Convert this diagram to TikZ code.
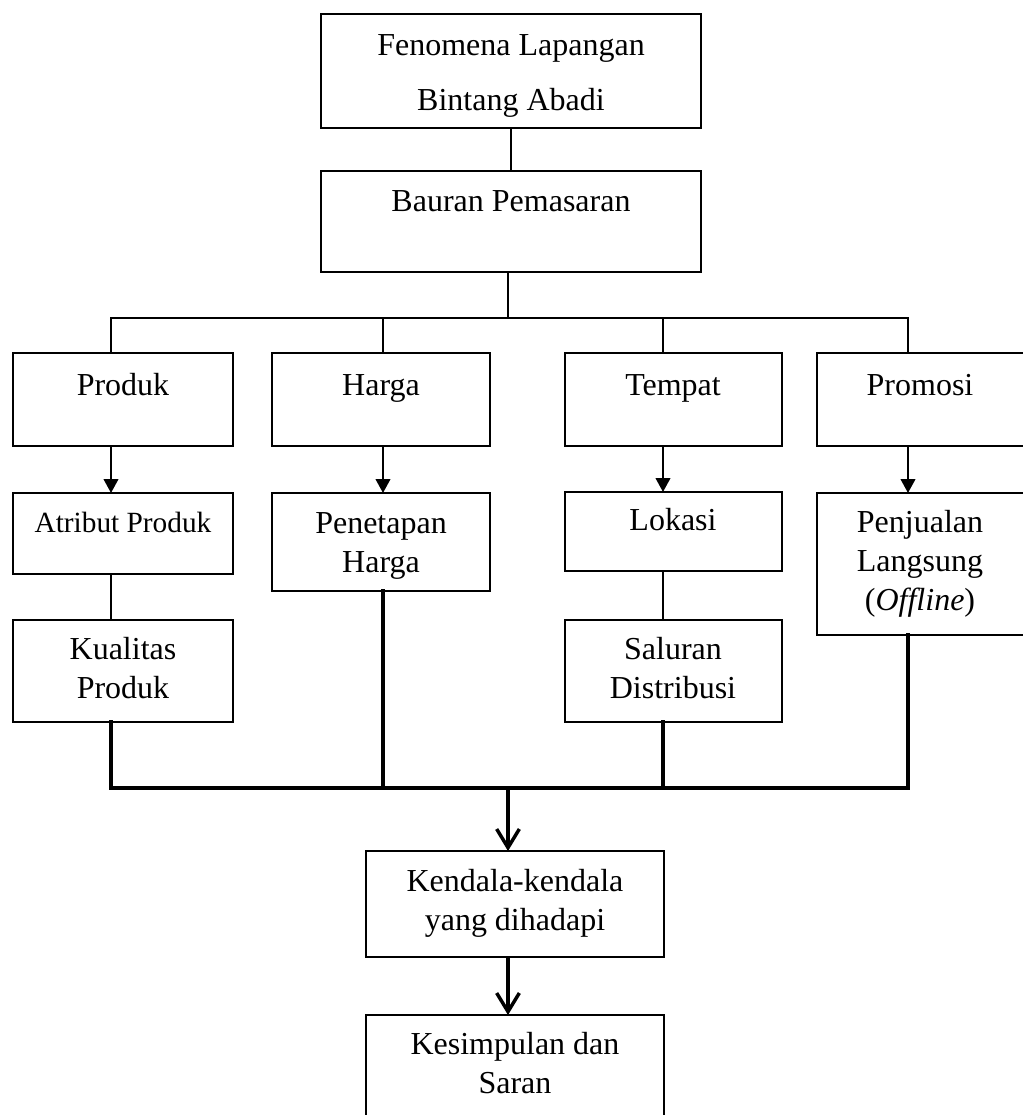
\documentclass[tikz,border=0pt]{standalone}
\usepackage{fontspec}
\setmainfont{Liberation Serif}
\usetikzlibrary{arrows.meta,fit}
\begin{document}
\begin{tikzpicture}[x=0.75pt,y=-0.75pt,
  box/.style={draw,line width=1.5pt,inner sep=0pt,outer sep=0pt},
  txt/.style={font=\fontsize{24}{29}\selectfont,align=center,inner sep=0pt,anchor=base},
  conn/.style={line width=1.2pt},
  farrow/.style={line width=1.5pt,-{Triangle[length=10.5pt,width=11pt]}},
  heavy/.style={line width=2.6pt,line cap=rect},
  barb/.style={line width=2.6pt,-{Straight Barb[length=14pt,width=17pt,line width=2.6pt]}}
]
\useasboundingbox (0,0) rectangle (1023,1115);
% boxes
\node[box,fit={(321,14) (701,128)}] (fen) {};
\node[box,fit={(321,171) (701,272)}] (bauran) {};
\node[box,fit={(13,353) (233,446)}] (produk) {};
\node[box,fit={(272,353) (490,446)}] (harga) {};
\node[box,fit={(565,353) (782,446)}] (tempat) {};
\node[box,fit={(817,353) (1030,446)}] (promosi) {};
\node[box,fit={(13,493) (233,574)}] (atribut) {};
\node[box,fit={(13,620) (233,722)}] (kualitas) {};
\node[box,fit={(272,493) (490,591)}] (penetapan) {};
\node[box,fit={(565,492) (782,571)}] (lokasi) {};
\node[box,fit={(565,620) (782,722)}] (saluran) {};
\node[box,fit={(817,493) (1030,635)}] (penjualan) {};
\node[box,fit={(366,851) (664,957)}] (kendala) {};
\node[box,fit={(366,1015) (664,1130)}] (kesimpulan) {};
% texts (anchor = baseline of the last line)
\node[txt,font=\fontsize{24}{41}\selectfont] (fenT) at (511,110) {Fenomena Lapangan\\Bintang Abadi};
\node[txt] (bauranT) at (511,211) {Bauran Pemasaran};
\node[txt] (produkT) at (123,395) {Produk};
\node[txt] (hargaT) at (381,395) {Harga};
\node[txt] (tempatT) at (673,395) {Tempat};
\node[txt] (promosiT) at (920,395) {Promosi};
\node[txt,font=\fontsize{22}{27}\selectfont] (atributT) at (123,532) {Atribut Produk};
\node[txt] (kualitasT) at (123,698) {Kualitas\\Produk};
\node[txt] (penetapanT) at (381,572) {Penetapan\\Harga};
\node[txt] (lokasiT) at (673,530) {Lokasi};
\node[txt] (saluranT) at (673,698) {Saluran\\Distribusi};
\node[txt] (penjualanT) at (920,610) {Penjualan\\Langsung\\(\textit{Offline})};
\node[txt] (kendalaT) at (515,930) {Kendala-kendala\\yang dihadapi};
\node[txt] (kesimpulanT) at (515,1093) {Kesimpulan dan\\Saran};
% coordinates
\coordinate (bus) at (508,318);
\coordinate (b1) at (111,318);
\coordinate (b2) at (383,318);
\coordinate (b3) at (663,318);
\coordinate (b4) at (908,318);
\coordinate (j1) at (111,788);
\coordinate (j2) at (383,788);
\coordinate (j3) at (663,788);
\coordinate (j4) at (908,788);
\coordinate (jm) at (508,788);
% connectors
\draw[conn] (fen.south) -- (bauran.north);
\draw[conn] (bauran.south -| bus) -- (bus);
\draw[conn] (b1 |- produk.north) -- (b1) -- (b4) -- (b4 |- promosi.north);
\draw[conn] (b2) -- (b2 |- harga.north);
\draw[conn] (b3) -- (b3 |- tempat.north);
\draw[farrow] (produk.south -| b1) -- (atribut.north -| b1);
\draw[farrow] (harga.south -| b2) -- (penetapan.north -| b2);
\draw[farrow] (tempat.south -| b3) -- (lokasi.north -| b3);
\draw[farrow] (promosi.south -| b4) -- (penjualan.north -| b4);
\draw[conn] (atribut.south -| b1) -- (kualitas.north -| b1);
\draw[conn] (lokasi.south -| b3) -- (saluran.north -| b3);
\draw[heavy] (kualitas.south -| j1) -- (j1) -- (j4) -- (penjualan.south -| j4);
\draw[heavy] (penetapan.south -| j2) -- (j2);
\draw[heavy] (saluran.south -| j3) -- (j3);
\draw[barb] (jm) -- (kendala.north -| jm);
\draw[barb] (kendala.south -| jm) -- (kesimpulan.north -| jm);
\end{tikzpicture}
\end{document}
